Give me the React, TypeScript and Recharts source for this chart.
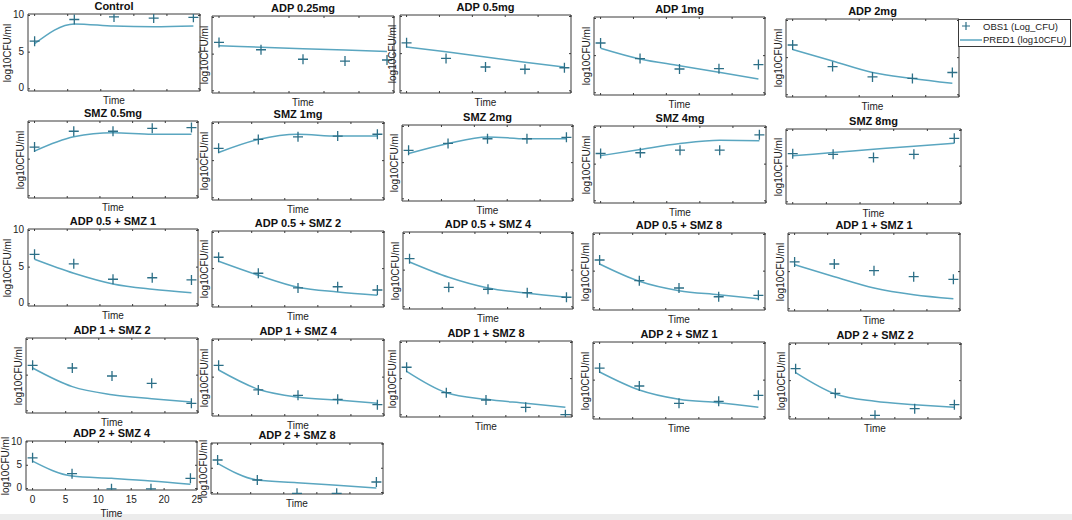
import { ComposedChart, Line, Scatter, XAxis, YAxis } from 'recharts';

// observation times (h) and the same for the model curve
const TIMES = [0, 6, 12, 18, 24];

const TITLES = [
  'Control', 'ADP 0.25mg', 'ADP 0.5mg', 'ADP 1mg', 'ADP 2mg',
  'SMZ 0.5mg', 'SMZ 1mg', 'SMZ 2mg', 'SMZ 4mg', 'SMZ 8mg',
  'ADP 0.5 + SMZ 1', 'ADP 0.5 + SMZ 2', 'ADP 0.5 + SMZ 4', 'ADP 0.5 + SMZ 8', 'ADP 1 + SMZ 1',
  'ADP 1 + SMZ 2', 'ADP 1 + SMZ 4', 'ADP 1 + SMZ 8', 'ADP 2 + SMZ 1', 'ADP 2 + SMZ 2',
  'ADP 2 + SMZ 4', 'ADP 2 + SMZ 8',
];

// OBS1 (Log_CFU)
const OBS = [
  [6.5, 9.45, 9.8, 9.65, 9.75],
  [6.6, 5.6, 4.3, 4.05, 4.2],
  [6.45, 4.35, 3.2, 2.9, 3.1],
  [6.7, 4.6, 3.2, 3.25, 3.8],
  [6.7, 3.8, 2.4, 2.2, 3.0],
  [6.65, 8.8, 8.8, 9.2, 9.3],
  [6.65, 7.85, 8.2, 8.3, 8.55],
  [6.7, 7.65, 8.3, 8.3, 8.5],
  [6.45, 6.55, 6.9, 6.9, 9.0],
  [6.75, 6.65, 6.2, 6.65, 8.9],
  [6.75, 5.45, 3.35, 3.55, 3.25],
  [6.57, 4.36, 2.33, 2.5, 2.05],
  [6.56, 2.66, 2.39, 1.92, 1.3],
  [6.52, 3.7, 2.7, 1.51, 1.7],
  [6.3, 6.03, 5.13, 4.32, 3.97],
  [6.38, 6.0, 4.88, 3.86, 1.06],
  [6.61, 3.25, 2.52, 1.98, 1.24],
  [6.57, 3.06, 2.05, 1.04, 0.02],
  [6.65, 4.2, 1.84, 2.11, 2.93],
  [6.65, 3.25, 0.21, 1.12, 1.68],
  [6.6, 3.19, -0.05, -0.05, 2.2],
  [6.7, 2.58, -0.16, -0.16, 2.17],
];

// PRED1 (log10CFU)
const PRED = [
  [6.15, 8.85, 8.55, 8.45, 8.55],
  [6.15, 5.95, 5.75, 5.55, 5.35],
  [5.9, 5.25, 4.55, 3.85, 3.2],
  [6.0, 4.55, 3.65, 2.75, 1.85],
  [6.1, 4.55, 3.0, 2.2, 1.55],
  [6.1, 8.05, 8.6, 8.4, 8.4],
  [6.1, 7.85, 8.55, 8.3, 8.3],
  [6.25, 7.65, 8.55, 8.3, 8.3],
  [6.15, 7.0, 7.8, 8.25, 8.2],
  [6.45, 6.9, 7.35, 7.8, 8.2],
  [6.07, 4.16, 2.7, 1.98, 1.51],
  [6.01, 4.08, 2.43, 1.77, 1.32],
  [6.11, 4.02, 2.56, 1.84, 1.3],
  [5.97, 3.61, 2.33, 1.79, 1.24],
  [5.93, 4.32, 2.8, 1.89, 1.36],
  [6.0, 3.39, 2.26, 1.7, 1.24],
  [5.97, 3.34, 2.25, 1.88, 1.43],
  [6.01, 3.06, 2.14, 1.59, 1.04],
  [6.11, 3.65, 2.39, 1.92, 1.3],
  [6.1, 3.15, 2.14, 1.68, 1.32],
  [5.9, 2.7, 2.2, 1.64, 0.91],
  [6.02, 2.58, 2.03, 1.49, 0.94],
];

const X_TICKS = [0, 5, 10, 15, 20, 25];
const Y_TICKS = [0, 5, 10];

// plot box of each panel: left, top, right, bottom (page px)
const BOXES = [
  [28, 14, 200, 91], [212, 16, 394, 93], [400, 15, 571, 93], [594, 17, 765, 95], [786, 19, 959, 97],
  [28, 121, 198, 198], [212, 122, 384, 200], [402, 125, 573, 201], [594, 126, 766, 203], [786, 129, 961, 204],
  [28, 229, 198, 306], [212, 231, 384, 307], [403, 232, 573, 309], [593, 233, 765, 310], [788, 233, 960, 311],
  [26, 338, 198, 413], [212, 339, 384, 416], [400, 341, 572, 417], [593, 342, 765, 419], [789, 343, 961, 419],
  [26, 441, 197, 490], [211, 443, 383, 494],
];
const Y_LABELLED = [0, 10, 20];
const X_LABELLED = [20];

const FONT = '"Liberation Sans", Arial, Helvetica, sans-serif';
const OBS_COLOR = '#2c6f87';
const PRED_COLOR = '#5aa6c0';
const AXIS_COLOR = '#3a3a3a';
const TEXT_COLOR = '#222';

// room around the plot box, taken by the four axes
const PAD = { top: 4, right: 10, bottom: 18, left: 30 };

const Plus = (props: any) => {
  const { cx, cy } = props;
  if (cx == null || cy == null) return null;
  return (
    <path
      d={`M${cx - 5},${cy}H${cx + 5}M${cx},${cy - 5}V${cy + 5}`}
      stroke={OBS_COLOR}
      strokeWidth={1.3}
      fill="none"
    />
  );
};

const bottomTick = (label: boolean) => (props: any) => {
  const { x, y, payload } = props;
  return (
    <g>
      <line x1={x} x2={x} y1={y} y2={y - 2} stroke={AXIS_COLOR} />
      {label && (
        <text x={x} y={y + 10} textAnchor="middle" dominantBaseline="middle" fontSize={10} fill={TEXT_COLOR} fontFamily={FONT}>
          {payload.value}
        </text>
      )}
    </g>
  );
};

const topTick = (props: any) => {
  const { x, y } = props;
  return <line x1={x} x2={x} y1={y} y2={y + 2} stroke={AXIS_COLOR} />;
};

const leftTick = (label: boolean) => (props: any) => {
  const { x, y, payload } = props;
  return (
    <g>
      <line x1={x} x2={x + 2} y1={y} y2={y} stroke={AXIS_COLOR} />
      {label && (
        <text x={x - 4} y={y} textAnchor="end" dominantBaseline="middle" fontSize={10} fill={TEXT_COLOR} fontFamily={FONT}>
          {payload.value}
        </text>
      )}
    </g>
  );
};

const rightTick = (props: any) => {
  const { x, y } = props;
  return <line x1={x - 2} x2={x} y1={y} y2={y} stroke={AXIS_COLOR} />;
};

function Panel({ index }: { index: number }) {
  const [l, t, r, b] = BOXES[index];
  const showY = Y_LABELLED.includes(index);
  const showX = X_LABELLED.includes(index);
  const obsData = TIMES.map((tt, i) => ({ t: tt, v: OBS[index][i] }));
  const predData = TIMES.map((tt, i) => ({ t: tt, v: PRED[index][i] }));
  const w = r - l + PAD.left + PAD.right;
  const h = b - t + PAD.top + PAD.bottom;
  const axisLine = { stroke: AXIS_COLOR, strokeWidth: 1 };

  return (
    <>
      <div style={{ position: 'absolute', left: l - PAD.left, top: t - PAD.top }}>
        <ComposedChart width={w} height={h} margin={{ top: 0, right: 0, bottom: 0, left: 0 }}>
          <XAxis
            xAxisId={0}
            dataKey="t"
            type="number"
            domain={[-1, 25]}
            allowDataOverflow
            ticks={X_TICKS}
            interval={0}
            height={PAD.bottom}
            tickSize={0}
            tickMargin={0}
            tickLine={false}
            axisLine={axisLine}
            tick={bottomTick(showX)}
          />
          <XAxis
            xAxisId="top"
            orientation="top"
            dataKey="t"
            type="number"
            domain={[-1, 25]}
            allowDataOverflow
            ticks={X_TICKS}
            interval={0}
            height={PAD.top}
            tickSize={0}
            tickMargin={0}
            tickLine={false}
            axisLine={axisLine}
            tick={topTick}
          />
          <YAxis
            yAxisId={0}
            dataKey="v"
            type="number"
            domain={[-0.3, 10.2]}
            allowDataOverflow
            ticks={Y_TICKS}
            interval={0}
            width={PAD.left}
            tickSize={0}
            tickMargin={0}
            tickLine={false}
            axisLine={axisLine}
            tick={leftTick(showY)}
          />
          <YAxis
            yAxisId="r"
            orientation="right"
            type="number"
            domain={[-0.3, 10.2]}
            allowDataOverflow
            ticks={Y_TICKS}
            interval={0}
            width={PAD.right}
            tickSize={0}
            tickMargin={0}
            tickLine={false}
            axisLine={axisLine}
            tick={rightTick}
          />
          <Line
            data={predData}
            dataKey="v"
            type="monotone"
            stroke={PRED_COLOR}
            strokeWidth={1.5}
            dot={false}
            isAnimationActive={false}
          />
          <Scatter data={obsData} dataKey="v" shape={Plus} isAnimationActive={false} />
        </ComposedChart>
      </div>
      <div
        style={{
          position: 'absolute',
          left: (l + r) / 2,
          top: t - 8,
          transform: 'translate(-50%, -50%)',
          fontWeight: 'bold',
          fontSize: 11,
          whiteSpace: 'nowrap',
          color: '#111',
        }}
      >
        {TITLES[index]}
      </div>
      <div
        style={{
          position: 'absolute',
          left: (l + r) / 2,
          top: b + (showX ? 23 : 9),
          transform: 'translate(-50%, -50%)',
          fontSize: 10,
          whiteSpace: 'nowrap',
          color: TEXT_COLOR,
        }}
      >
        Time
      </div>
      <div
        style={{
          position: 'absolute',
          left: l - (showY ? 21 : 8),
          top: (t + b) / 2,
          transform: 'translate(-50%, -50%) rotate(-90deg)',
          fontSize: 10,
          whiteSpace: 'nowrap',
          color: TEXT_COLOR,
        }}
      >
        log10CFU/ml
      </div>
    </>
  );
}

export default function App() {
  return (
    <div
      style={{
        position: 'absolute',
        left: 0,
        top: 0,
        width: 1072,
        height: 520,
        background: '#fff',
        fontFamily: FONT,
        overflow: 'hidden',
      }}
    >
      <div style={{ position: 'absolute', left: 0, top: 514, width: 1072, height: 6, background: '#ececec' }} />
      {TITLES.map((_, i) => (
        <Panel key={i} index={i} />
      ))}
      <div
        style={{
          position: 'absolute',
          left: 958,
          top: 19,
          width: 113,
          height: 28,
          border: `1px solid ${AXIS_COLOR}`,
          background: '#fff',
          fontSize: 9.5,
          color: TEXT_COLOR,
          boxSizing: 'border-box',
        }}
      >
        <svg width={24} height={26} style={{ position: 'absolute', left: 0, top: 0 }}>
          <path d="M3,6H11M7,2V10" stroke={OBS_COLOR} strokeWidth={1.2} fill="none" />
          <line x1={1} x2={23} y1={20} y2={20} stroke={PRED_COLOR} strokeWidth={1.5} />
        </svg>
        <div style={{ position: 'absolute', left: 24, top: 0, whiteSpace: 'nowrap', lineHeight: '13px' }}>OBS1 (Log_CFU)</div>
        <div style={{ position: 'absolute', left: 24, top: 13, whiteSpace: 'nowrap', lineHeight: '13px' }}>PRED1 (log10CFU)</div>
      </div>
    </div>
  );
}
